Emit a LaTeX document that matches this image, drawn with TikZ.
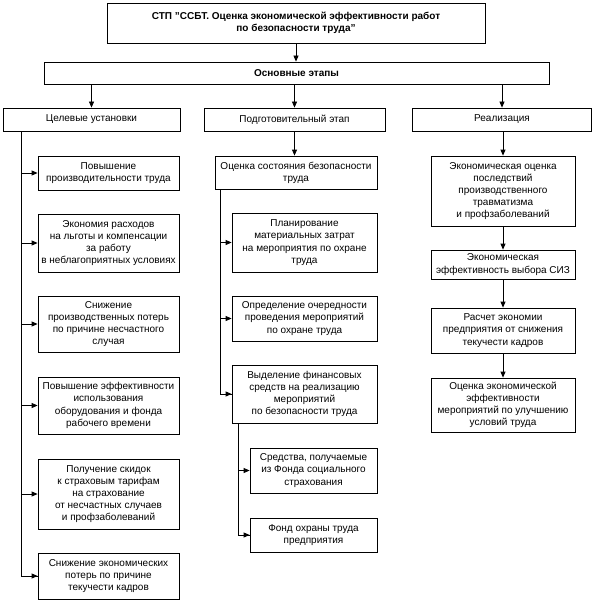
\documentclass[tikz,border=0pt]{standalone}
\usepackage{fontspec}
\setmainfont{Liberation Sans}
\usetikzlibrary{arrows.meta}
\begin{document}
\begin{tikzpicture}[x=1pt,y=-1pt,
  box/.style={draw,line width=0.8pt,align=center,inner xsep=1pt,inner ysep=0pt,
    font=\fontsize{10}{12.2}\selectfont},
  boldbox/.style={box,font=\fontsize{10}{12.2}\selectfont\bfseries},
  arr/.style={line width=0.8pt,-{Triangle[length=6pt,width=5pt]}},
  ln/.style={line width=0.8pt}]
\useasboundingbox (0,0) rectangle (593,607);
\fill[white] (0,0) rectangle (593,607);
% top
\node[boldbox,minimum width=378pt,minimum height=40pt] (top) at (296,23)
  {СТП "ССБТ. Оценка экономической эффективности работ\\по безопасности труда"};
\node[boldbox,minimum width=505pt,minimum height=22pt] (osn) at (296.5,73) {Основные этапы};
\node[box,minimum width=177pt,minimum height=23pt] (cel) at (91.5,119.5) {Целевые установки};
\node[box,minimum width=181pt,minimum height=23pt] (pod) at (294.5,119.5) {Подготовительный этап};
\node[box,minimum width=179pt,minimum height=23pt] (rea) at (502,119.5) {Реализация};
\draw[arr] (top.south) -- (top.south |- osn.north);
\draw[arr] (osn.south -| cel.north) -- (cel.north);
\draw[arr] (osn.south -| pod.north) -- (pod.north);
\draw[arr] (osn.south -| rea.north) -- (rea.north);
% left column
\tikzset{lbox/.style={box,minimum width=141pt}}
\node[lbox,minimum height=34pt] (c1) at (108.5,173) {Повышение\\производительности труда};
\node[lbox,minimum height=58pt] (c2) at (108.5,243) {Экономия расходов\\на льготы и компенсации\\за работу\\в неблагоприятных условиях};
\node[lbox,minimum height=56pt] (c3) at (108.5,324) {Снижение\\производственных потерь\\по причине несчастного\\случая};
\node[lbox,minimum height=57pt] (c4) at (108.5,405.5) {Повышение эффективности\\использования\\оборудования и фонда\\рабочего времени};
\node[lbox,minimum height=70pt] (c5) at (108.5,494) {Получение скидок\\к страховым тарифам\\на страхование\\от несчастных случаев\\и профзаболеваний};
\node[lbox,minimum height=46pt] (c6) at (108.5,576) {Снижение экономических\\потерь по причине\\текучести кадров};
\coordinate (cs) at (21,131);
\draw[ln] (cs) |- (c6.west);
\draw[arr] (cs |- c6.west) -- (c6.west);
\foreach \n in {c1,c2,c3,c4,c5} \draw[arr] (cs |- \n.west) -- (\n.west);
% middle column
\node[box,minimum width=162pt,minimum height=33pt] (m0) at (296,172.5) {Оценка состояния безопасности\\труда};
\tikzset{mbox/.style={box,minimum width=145pt}}
\node[mbox,minimum height=59pt] (m1) at (304.5,242.5) {Планирование\\материальных затрат\\на мероприятия по охране\\труда};
\node[mbox,minimum height=45pt] (m2) at (304.5,318.5) {Определение очередности\\проведения мероприятий\\по охране труда};
\node[mbox,minimum height=58pt] (m3) at (304.5,394) {Выделение финансовых\\средств на реализацию\\мероприятий\\по безопасности труда};
\tikzset{nbox/.style={box,minimum width=127pt}}
\node[nbox,minimum height=45pt] (m4) at (313.5,470.5) {Средства, получаемые\\из Фонда социального\\страхования};
\node[nbox,minimum height=34pt] (m5) at (313.5,535) {Фонд охраны труда\\предприятия};
\draw[arr] (pod.south) -- (pod.south |- m0.north);
\coordinate (ms) at (220,189);
\draw[ln] (ms) |- (m3.west);
\draw[arr] (ms |- m3.west) -- (m3.west);
\draw[arr] (ms |- m1.west) -- (m1.west);
\draw[arr] (ms |- m2.west) -- (m2.west);
\coordinate (ns) at (238,423);
\draw[ln] (ns) |- (m5.west);
\draw[arr] (ns |- m5.west) -- (m5.west);
\draw[arr] (ns |- m4.west) -- (m4.west);
% right column
\tikzset{rbox/.style={box,minimum width=144pt}}
\node[rbox,minimum height=70pt] (r1) at (503,191) {Экономическая оценка\\последствий\\производственного\\травматизма\\и профзаболеваний};
\node[rbox,minimum height=29pt] (r2) at (503,264.5) {Экономическая\\эффективность выбора СИЗ};
\node[rbox,minimum height=45pt] (r3) at (503,330.5) {Расчет экономии\\предприятия от снижения\\текучести кадров};
\node[rbox,minimum height=54pt] (r4) at (503,405) {Оценка экономической\\эффективности\\мероприятий по улучшению\\условий труда};
\draw[arr] (rea.south -| r1.north) -- (r1.north);
\draw[arr] (r1.south) -- (r2.north);
\draw[arr] (r2.south) -- (r3.north);
\draw[arr] (r3.south) -- (r4.north);
\end{tikzpicture}
\end{document}
